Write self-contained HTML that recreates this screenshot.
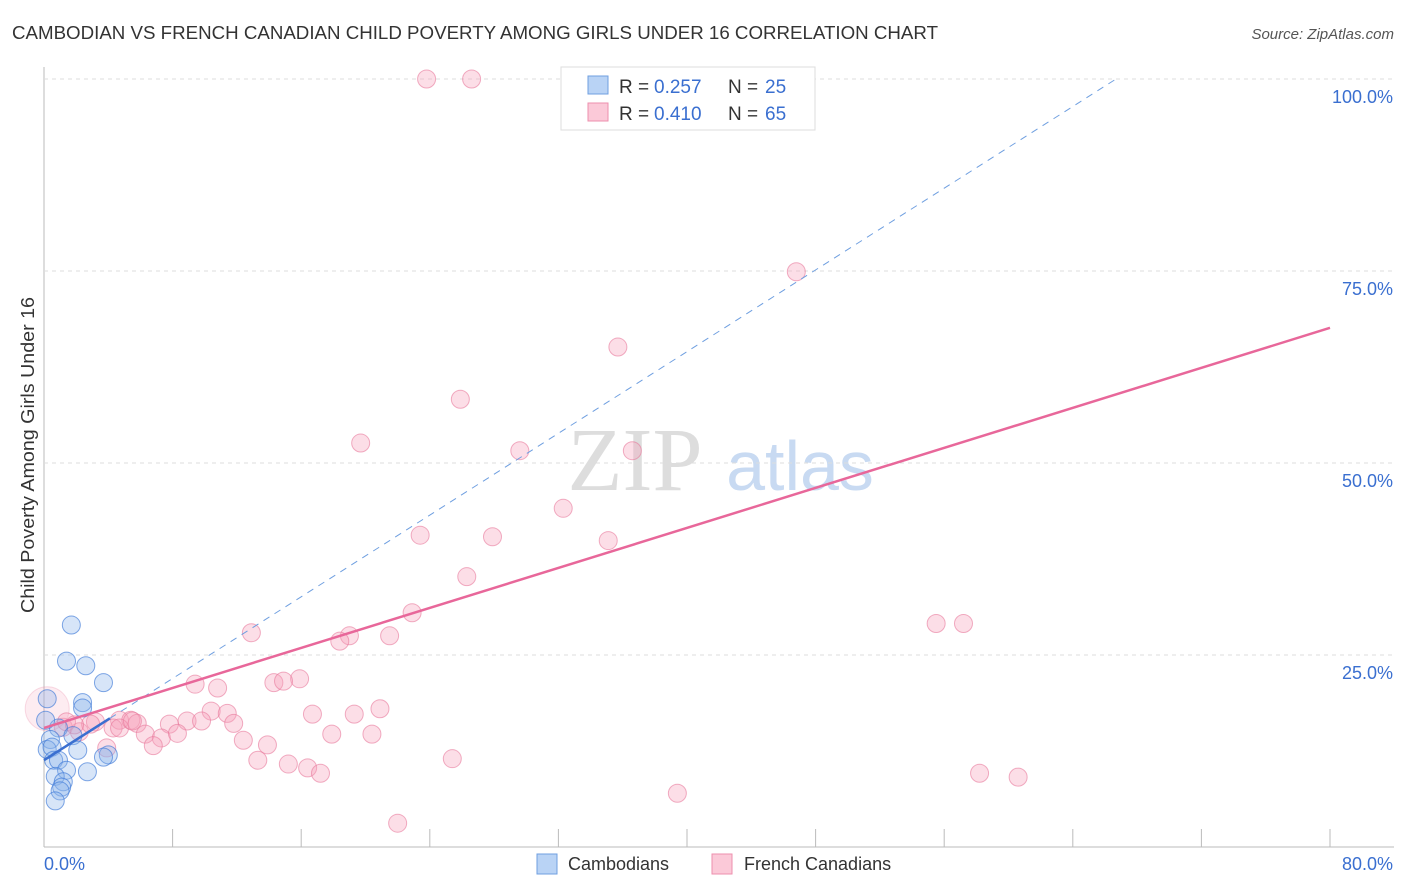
<!DOCTYPE html>
<html><head><meta charset="utf-8"><style>
body{margin:0;background:#fff;font-family:"Liberation Sans",sans-serif;}
#wrap{position:relative;width:1406px;height:892px;overflow:hidden;}
</style></head><body>
<div id="wrap">
<svg id="svg" width="1406" height="892" xmlns="http://www.w3.org/2000/svg">
<text x="12" y="39" font-size="18" fill="#333" textLength="926" lengthAdjust="spacingAndGlyphs">CAMBODIAN VS FRENCH CANADIAN CHILD POVERTY AMONG GIRLS UNDER 16 CORRELATION CHART</text>
<text x="1394" y="39" font-size="15" font-style="italic" fill="#555" text-anchor="end">Source: ZipAtlas.com</text>
<text x="34" y="455" font-size="18" fill="#333" text-anchor="middle" textLength="316" lengthAdjust="spacingAndGlyphs" transform="rotate(-90 34 455)">Child Poverty Among Girls Under 16</text>
<text x="635" y="490" font-size="90" font-family="Liberation Serif" fill="#ddd" text-anchor="middle">ZIP</text>
<text x="800" y="490" font-size="70" fill="#c8daf2" text-anchor="middle">atlas</text>
<g id="grid"></g><g id="marks"></g>
<g>
<rect x="561" y="67" width="254" height="63" fill="#fff" stroke="#ddd"/>
<rect x="588" y="76" width="20" height="18" fill="#b9d3f5" stroke="#6f9fe0"/>
<rect x="588" y="103" width="20" height="18" fill="#fbc9d8" stroke="#ee8fae"/>
<text x="619" y="93" font-size="19" fill="#333">R = </text><text x="654" y="93" font-size="19" fill="#3a6fd0">0.257</text>
<text x="728" y="93" font-size="19" fill="#333">N = </text><text x="765" y="93" font-size="19" fill="#3a6fd0">25</text>
<text x="619" y="120" font-size="19" fill="#333">R = </text><text x="654" y="120" font-size="19" fill="#3a6fd0">0.410</text>
<text x="728" y="120" font-size="19" fill="#333">N = </text><text x="765" y="120" font-size="19" fill="#3a6fd0">65</text>
</g>
<g>
<rect x="537" y="854" width="20" height="20" fill="#b9d3f5" stroke="#6f9fe0"/>
<text x="568" y="870" font-size="18" fill="#333">Cambodians</text>
<rect x="712" y="854" width="20" height="20" fill="#fbc9d8" stroke="#ee8fae"/>
<text x="744" y="870" font-size="18" fill="#333">French Canadians</text>
</g>
</svg></div>
<script>
const xTicks=[0,8,16,24,32,40,48,56,64,72,80];
const yTicks=[25,50,75,100];
const blueX=[1.7,1.4,2.6,3.7,2.4,2.4,0.2,0.9,1.8,0.4,0.2,2.1,0.5,4.0,3.7,0.6,0.9,1.4,2.7,0.7,1.2,1.1,1.0,0.7,0.1];
const blueY=[28.9,24.2,23.6,21.4,18.8,18.1,19.3,15.5,14.5,14.0,12.7,12.6,13.0,12.0,11.7,11.3,11.3,10.0,9.8,9.2,8.5,7.8,7.3,6.0,16.5];
const pinkX=[23.8,26.6,46.8,35.7,25.9,19.7,29.6,36.6,32.3,23.4,27.9,35.1,26.3,55.5,57.2,22.9,12.9,19.0,21.5,18.4,15.9,14.3,14.9,9.4,10.8,10.4,11.4,16.7,19.3,20.9,1.2,3.2,4.7,5.4,5.8,7.8,8.9,9.8,11.8,2.2,4.3,6.3,7.3,8.3,3.9,6.8,12.4,13.9,17.9,20.4,0.2,13.3,15.2,16.4,17.2,25.4,58.2,60.6,39.4,22.0,1.4,4.7,5.5,2.9,1.9];
const pinkY=[100,100,74.9,65.1,58.3,52.6,51.6,51.6,44.1,40.6,40.4,39.9,35.2,29.1,29.1,30.5,27.9,27.5,27.5,26.8,21.9,21.4,21.6,21.2,20.7,17.7,17.4,17.3,17.3,18.0,15.6,16.3,16.5,16.5,16.1,16.0,16.4,16.4,16.1,15.0,15.5,14.7,14.2,14.8,12.9,13.2,13.9,13.3,14.7,14.7,18.0,11.3,10.8,10.3,9.6,11.5,9.6,9.1,7.0,3.1,16.3,15.5,16.4,16.0,15.9];
const pinkFit=[15.5,67.6];
const blueFit=[11.3,1.33];
const X=v=>44+v*16.075, Y=v=>847-v*7.68;
const NS="http://www.w3.org/2000/svg";
function mk(t,a,p){const e=document.createElementNS(NS,t);for(const k in a)e.setAttribute(k,a[k]);p.appendChild(e);return e;}
const grid=document.getElementById('grid'), marks=document.getElementById('marks');
let ax=mk('line',{x1:44,y1:67,x2:44,y2:847,stroke:'#bbb'},grid);


let bx=mk('line',{x1:44,y1:847,x2:1394,y2:847,stroke:'#bbb'},grid);


yTicks.forEach(v=>{
 const l=mk('line',{x1:44,y1:Y(v),x2:1394,y2:Y(v),stroke:'#ddd','stroke-dasharray':'4,4'},grid);
 
 
 const t=mk('text',{x:1393,y:Y(v)+24,'font-size':18,fill:'#3a6fd0','text-anchor':'end'},grid);t.textContent=v.toFixed(1)+'%';
 
 
});
xTicks.forEach(v=>{
 const l=mk('line',{x1:X(v),y1:829,x2:X(v),y2:847,stroke:'#bbb'},grid);
 
 
});
[[0,'0.0%',44,'start'],[80,'80.0%',1393,'end']].forEach(d=>{
 const t=mk('text',{x:d[2],y:870,'font-size':18,fill:'#3a6fd0','text-anchor':d[3]},grid);t.textContent=d[1];
 
 
});
pinkX.forEach((x,i)=>{
 const big=i==50;
 const c=mk('circle',{cx:X(x),cy:Y(pinkY[i]),r:big?22:9,fill:big?'rgba(246,160,186,0.2)':'rgba(246,160,186,0.35)',stroke:big?'rgba(232,120,155,0.25)':'rgba(232,120,155,0.6)'},marks);
 
 
});
blueX.forEach((x,i)=>{
 const c=mk('circle',{cx:X(x),cy:Y(blueY[i]),r:9,fill:'rgba(140,180,235,0.35)',stroke:'rgba(60,120,215,0.65)'},marks);
 
 
});
const xEnd=(100-blueFit[0])/blueFit[1];
let d1=mk('line',{x1:X(4.1),y1:Y(blueFit[0]+blueFit[1]*4.1),x2:X(xEnd),y2:Y(100),stroke:'#6f9fe0','stroke-dasharray':'7,6'},marks);


let d2=mk('line',{x1:X(0),y1:Y(blueFit[0]),x2:X(4.1),y2:Y(blueFit[0]+blueFit[1]*4.1),stroke:'#3a6fd0','stroke-width':2.5},marks);


let d3=mk('line',{x1:X(0),y1:Y(pinkFit[0]),x2:X(80),y2:Y(pinkFit[1]),stroke:'#e8679a','stroke-width':2.5},marks);


</script>
</body></html>
